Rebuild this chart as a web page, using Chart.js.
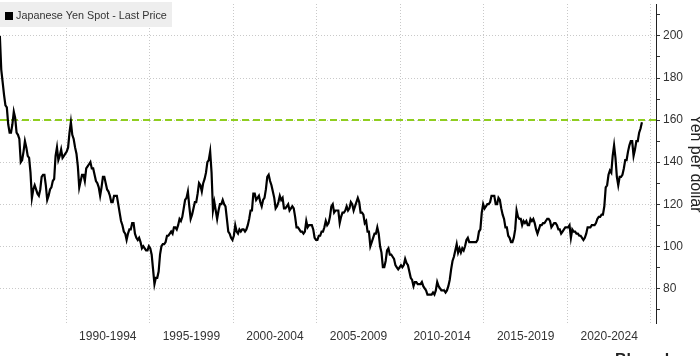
<!DOCTYPE html>
<html>
<head>
<meta charset="utf-8">
<script src="https://cdn.jsdelivr.net/npm/chart.js@4.4.1/dist/chart.umd.min.js"></script>
<style>
  html, body { margin: 0; padding: 0; background: #ffffff; }
  #wrap { position: relative; width: 700px; height: 356px; }
</style>
</head>
<body>
<div id="wrap"><canvas id="c"></canvas></div>
<script>
// ---- Data (monthly USD/JPY) ----
const startYear = 1986;

const yen1986to1989 = [
  200, 184, 178, 172, 167, 166, 158, 154, 154, 158, 164, 161,
  154, 153, 151, 140, 141, 145, 150, 147, 143, 142, 135, 123,
  127, 129, 127, 125, 124, 127, 133, 134, 134, 129, 122, 124,
  127, 128, 131, 132, 143, 147, 141, 143, 146, 142, 143, 144
];

const yen1990s = [
  145, 147, 154, 159, 153, 151, 147, 144, 138, 128, 131, 134,
  134, 131, 137, 138, 139, 140, 137, 137, 134, 131, 130, 128,
  124, 128, 133, 133, 130, 127, 126, 124, 121, 121, 124, 124,
  124, 120, 116, 112, 110, 107, 106, 103, 106, 108, 108, 111,
  111, 106, 104, 103, 104, 102, 99, 100, 99, 98, 98, 100,
  99, 96, 89, 82, 85, 85, 88, 96, 100, 101, 101, 102,
  105, 105, 106, 107, 106, 109, 109, 108, 110, 113, 112, 114,
  118, 122, 123, 126, 119, 113, 115, 118, 121, 121, 125, 130,
  129, 126, 130, 132, 135, 140, 141, 145, 135, 117, 121, 117,
  113, 117, 120, 120, 122, 120, 119, 113, 107, 106, 104, 103
];

const yen2000s = [
  105, 110, 107, 106, 108, 107, 108, 108, 107, 108, 110, 113,
  117, 117, 125, 125, 122, 123, 124, 121, 119, 122, 123, 127,
  133, 134, 131, 129, 126, 123, 118, 119, 121, 124, 122, 123,
  118, 118, 119, 120, 117, 118, 119, 118, 114, 109, 109, 108,
  107, 107, 106, 107, 112, 109, 110, 110, 110, 108, 104, 103,
  103, 105, 105, 107, 107, 109, 112, 110, 111, 114, 119, 120,
  116, 117, 117, 117, 111, 114, 116, 116, 117, 119, 117, 118,
  121, 120, 117, 119, 121, 123, 121, 116, 116, 115, 111, 112,
  107, 107, 100, 102, 104, 106, 106, 109, 106, 100, 97, 90,
  90, 93, 98, 99, 96, 96, 95, 94, 91, 90, 89, 90
];

const yen2010s = [
  91, 90, 91, 94, 92, 91, 88, 85, 84, 81, 83, 83,
  82, 82, 82, 83, 81, 80, 79, 77, 77, 77, 77, 78,
  77, 79, 83, 81, 80, 79, 79, 79, 78, 79, 81, 84,
  89, 93, 95, 98, 101, 97, 99, 97, 99, 98, 100, 103,
  104, 102, 102, 102, 102, 102, 102, 103, 107, 108, 116, 120,
  118, 119, 120, 120, 121, 124, 124, 124, 120, 120, 123, 122,
  118, 115, 113, 109, 109, 105, 104, 102, 102, 104, 108, 117,
  114, 113, 113, 110, 112, 111, 112, 110, 110, 113, 112, 113,
  111, 108, 106, 108, 110, 110, 111, 111, 112, 113, 113, 112,
  109, 110, 111, 111, 110, 108, 108, 106, 107, 108, 109, 109
];

const yen2020s = [
  109, 110, 104, 108, 107, 107, 106, 106, 105, 105, 104, 103,
  104, 106, 109, 109, 109, 110, 110, 110, 111, 113, 114, 114,
  115, 115, 119, 128, 129, 134, 136, 135, 143, 148, 142, 133,
  129, 133, 133, 134, 137, 141, 141, 145, 148, 150, 150, 143,
  146, 150, 150, 154, 156, 159
];

const periodStarts = [1990, 1995, 2000, 2005, 2010, 2015, 2020, 2025];
const periodLabels = ['1990-1994', '1995-1999', '2000-2004', '2005-2009', '2010-2014', '2015-2019', '2020-2024'];
const referenceLevel = [160];
const seriesName = 'Japanese Yen Spot - Last Price';
const axisTitle = 'Yen per dollar';
const sourceText = 'Bloomberg';

// ---- Build chart data ----
const monthly = [].concat(yen1986to1989, yen1990s, yen2000s, yen2010s, yen2020s);
const linePoints = monthly.map((v, i) => ({ x: startYear + (i + 0.5) / 12, y: v }));
const X_MIN = 1986.05, X_MAX = 2025.30;
const refPoints = [{ x: X_MIN, y: referenceLevel[0] }, { x: X_MAX, y: referenceLevel[0] }];

const FONT = "'Liberation Sans', Arial, sans-serif";
const GRID = '#c9c9c9';

const overlayPlugin = {
  id: 'overlay',
  afterDraw(chart) {
    const ctx = chart.ctx;
    ctx.save();
    ctx.fillStyle = '#eeeeee';
    ctx.fillRect(0, 2, 172, 25);
    ctx.fillStyle = '#000000';
    ctx.fillRect(5, 12, 8, 8);
    ctx.font = '10.8px ' + FONT;
    ctx.fillStyle = '#333333';
    ctx.textBaseline = 'middle';
    ctx.textAlign = 'left';
    ctx.fillText(seriesName, 16, 16);
    ctx.font = 'bold 16px ' + FONT;
    ctx.textBaseline = 'alphabetic';
    ctx.fillStyle = '#222222';
    ctx.fillText(sourceText, 615, 365);
    ctx.restore();
  }
};

new Chart(document.getElementById('c'), {
  type: 'line',
  data: {
    datasets: [
      {
        label: seriesName,
        data: linePoints,
        borderColor: '#000000',
        borderWidth: 2.2,
        pointRadius: 0,
        fill: false,
        tension: 0,
        order: 1
      },
      {
        label: 'reference',
        data: refPoints,
        borderColor: '#8fce1f',
        borderWidth: 2,
        borderDash: [7, 4],
        pointRadius: 0,
        fill: false,
        order: 2
      }
    ]
  },
  options: {
    responsive: true,
    maintainAspectRatio: false,
    animation: false,
    layout: { padding: { top: 4, left: 0, right: 0, bottom: 0 } },
    plugins: { legend: { display: false }, tooltip: { enabled: false } },
    scales: {
      x: {
        type: 'linear',
        min: X_MIN,
        max: X_MAX,
        afterBuildTicks(scale) {
          const t = periodStarts.map(v => ({ value: v }));
          periodLabels.forEach((l, i) => t.push({ value: periodStarts[i] + 2.5 }));
          t.sort((a, b) => a.value - b.value);
          scale.ticks = t;
        },
        afterFit(scale) {
          scale.height = 33;
          scale.paddingLeft = 0;
          scale.paddingRight = 0;
        },
        ticks: {
          autoSkip: false,
          maxRotation: 0,
          padding: 6,
          color: '#333333',
          font: { family: FONT, size: 12 },
          callback(v) {
            const i = periodStarts.findIndex(s => Math.abs(s + 2.5 - v) < 1e-6);
            return (i >= 0 && i < periodLabels.length) ? periodLabels[i] : '';
          }
        },
        grid: {
          drawTicks: false,
          lineWidth: 1,
          color: ctx => (ctx.tick && periodStarts.includes(ctx.tick.value)) ? GRID : 'rgba(0,0,0,0)'
        },
        border: { display: false, dash: [1, 2] }
      },
      y: {
        type: 'linear',
        position: 'right',
        min: 63.5,
        max: 215.2,
        afterFit(scale) {
          scale.width = 44;
          scale.paddingTop = 0;
          scale.paddingBottom = 0;
        },
        ticks: {
          stepSize: 10,
          includeBounds: false,
          autoSkip: false,
          padding: 3,
          color: '#333333',
          font: { family: FONT, size: 12 },
          callback: v => (v % 20 === 0 ? String(v) : '')
        },
        grid: {
          drawTicks: true,
          tickLength: 4,
          tickColor: '#333333',
          lineWidth: 1,
          color: ctx => (ctx.tick && ctx.tick.value % 20 === 0) ? GRID : 'rgba(0,0,0,0)'
        },
        border: { display: true, color: '#222222', width: 1, dash: [1, 2] },
        title: {
          display: true,
          text: axisTitle,
          color: '#222222',
          font: { family: FONT, size: 16, lineHeight: 1 },
          padding: { top: -3, bottom: 0 }
        }
      }
    }
  },
  plugins: [overlayPlugin]
});
</script>
</body>
</html>
